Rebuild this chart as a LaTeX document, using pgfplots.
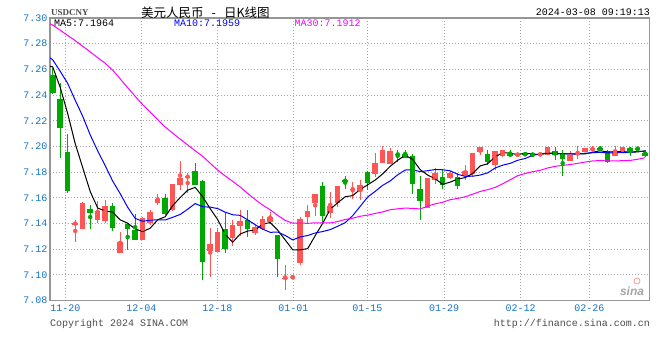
\documentclass[border=0pt]{standalone}
\usepackage{pgfplots}
\pgfplotsset{compat=1.18}
\usepackage{pgfplotstable}
\usepackage{fontspec}
\setmainfont{Liberation Sans}
\newfontfamily\mono{Liberation Mono}
\newfontfamily\cjk{Noto Sans CJK SC}
\newfontfamily\serifx{Liberation Serif}
\definecolor{upred}{RGB}{255,85,85}
\definecolor{dngreen}{RGB}{0,168,0}
\definecolor{tickblue}{RGB}{20,115,200}
\definecolor{bordergray}{RGB}{150,150,150}
\definecolor{gridgray}{RGB}{165,165,165}
\definecolor{mamag}{RGB}{255,0,255}
\definecolor{mablue}{RGB}{0,0,255}

% rising candles (red)
\pgfplotstableread{
i o h l c
4 7.1395 7.1427 7.1258 7.1405
5 7.1357 7.1565 7.1355 7.1561
7 7.1427 7.1575 7.1406 7.1497
8 7.1419 7.1580 7.1406 7.1538
10 7.1168 7.1331 7.1168 7.1258
13 7.1271 7.1452 7.1270 7.1440
14 7.1406 7.1505 7.1388 7.1489
15 7.1560 7.1630 7.1544 7.1590
17 7.1505 7.1710 7.1497 7.1707
18 7.1700 7.1886 7.1660 7.1756
19 7.1756 7.1795 7.1635 7.1774
22 7.1186 7.1367 7.0980 7.1241
23 7.1181 7.1363 7.1180 7.1334
25 7.1290 7.1427 7.1225 7.1388
26 7.1380 7.1505 7.1300 7.1422
28 7.1328 7.1390 7.1310 7.1375
29 7.1355 7.1456 7.1350 7.1435
30 7.1414 7.1494 7.1400 7.1448
32 7.0972 7.1078 7.0883 7.0980
33 7.0978 7.0990 7.0976 7.0986
34 7.1090 7.1448 7.1078 7.1435
35 7.1448 7.1544 7.1400 7.1497
36 7.1562 7.1630 7.1457 7.1627
38 7.1482 7.1647 7.1441 7.1533
39 7.1556 7.1692 7.1530 7.1691
41 7.1664 7.1725 7.1594 7.1672
42 7.1652 7.1740 7.1580 7.1699
44 7.1785 7.1950 7.1764 7.1875
45 7.1872 7.2004 7.1870 7.1971
46 7.1867 7.1985 7.1865 7.1965
51 7.1523 7.1755 7.1520 7.1751
52 7.1738 7.1829 7.1705 7.1790
54 7.1756 7.1810 7.1745 7.1795
56 7.1772 7.1858 7.1740 7.1806
57 7.1790 7.1952 7.1764 7.1950
58 7.1955 7.1998 7.1937 7.1995
60 7.1858 7.1965 7.1820 7.1963
61 7.1924 7.1975 7.1915 7.1971
63 7.1932 7.1945 7.1930 7.1940
66 7.1934 7.1946 7.1930 7.1942
67 7.1937 7.1997 7.1935 7.1995
70 7.1887 7.1963 7.1885 7.1932
71 7.1937 7.2000 7.1900 7.1953
72 7.1956 7.1990 7.1955 7.1989
73 7.1971 7.2000 7.1953 7.1990
76 7.1926 7.2000 7.1925 7.1963
77 7.1955 7.1998 7.1953 7.1995
}\upcandles

% falling candles (green)
\pgfplotstableread{
i o h l c
1 7.2554 7.2613 7.2410 7.2416
2 7.2367 7.2494 7.1914 7.2140
3 7.1956 7.2100 7.1635 7.1655
6 7.1512 7.1544 7.1357 7.1484
9 7.1538 7.1561 7.1340 7.1362
11 7.1396 7.1401 7.1190 7.1355
12 7.1349 7.1474 7.1270 7.1271
16 7.1600 7.1630 7.1466 7.1470
20 7.1808 7.1868 7.1700 7.1700
21 7.1733 7.1735 7.0956 7.1103
24 7.1357 7.1480 7.1168 7.1204
27 7.1427 7.1505 7.1293 7.1357
31 7.1310 7.1310 7.0987 7.1124
37 7.1691 7.1725 7.1396 7.1458
40 7.1738 7.1768 7.1670 7.1730
43 7.1806 7.1806 7.1660 7.1715
47 7.1943 7.1975 7.1880 7.1935
48 7.1945 7.1975 7.1910 7.1911
49 7.1924 7.1940 7.1634 7.1712
50 7.1670 7.1769 7.1427 7.1574
53 7.1764 7.1821 7.1668 7.1700
55 7.1764 7.1790 7.1668 7.1694
59 7.1945 7.1974 7.1858 7.1880
62 7.1945 7.1974 7.1919 7.1926
64 7.1948 7.1950 7.1930 7.1935
65 7.1942 7.1945 7.1930 7.1932
68 7.1963 7.1995 7.1897 7.1932
69 7.1953 7.1970 7.1770 7.1906
74 7.1990 7.2005 7.1965 7.1970
75 7.1963 7.1970 7.1872 7.1880
78 7.1990 7.2000 7.1926 7.1966
79 7.1988 7.2000 7.1962 7.1980
80 7.1953 7.1970 7.1920 7.1926
}\dncandles

% moving averages
\pgfplotstableread{
i ma5 ma10 ma30
0.64 7.2624 7.2690 7.2955
1 7.2620 7.2675 7.2945
2 7.2460 7.2585 7.2905
3 7.2256 7.2490 7.2864
4 7.2022 7.2360 7.2824
5 7.1835 7.2235 7.2780
6 7.1649 7.2090 7.2736
7 7.1520 7.1965 7.2691
8 7.1497 7.1850 7.2647
9 7.1488 7.1730 7.2594
10 7.1428 7.1632 7.2526
11 7.1402 7.1526 7.2457
12 7.1357 7.1439 7.2390
13 7.1337 7.1417 7.2325
14 7.1363 7.1426 7.2268
15 7.1429 7.1428 7.2209
16 7.1452 7.1427 7.2151
17 7.1539 7.1448 7.2103
18 7.1602 7.1470 7.2057
19 7.1659 7.1511 7.2011
20 7.1681 7.1555 7.1966
21 7.1608 7.1530 7.1923
22 7.1515 7.1527 7.1869
23 7.1430 7.1516 7.1815
24 7.1316 7.1488 7.1770
25 7.1254 7.1468 7.1728
26 7.1318 7.1463 7.1684
27 7.1341 7.1428 7.1634
28 7.1349 7.1390 7.1586
29 7.1395 7.1356 7.1543
30 7.1407 7.1331 7.1506
31 7.1348 7.1333 7.1463
32 7.1272 7.1307 7.1424
33 7.1195 7.1272 7.1402
34 7.1195 7.1295 7.1403
35 7.1204 7.1306 7.1401
36 7.1305 7.1326 7.1405
37 7.1401 7.1337 7.1404
38 7.1510 7.1352 7.1404
39 7.1561 7.1378 7.1415
40 7.1608 7.1406 7.1431
41 7.1617 7.1461 7.1441
42 7.1665 7.1533 7.1456
43 7.1701 7.1606 7.1465
44 7.1738 7.1650 7.1478
45 7.1786 7.1697 7.1490
46 7.1845 7.1731 7.1507
47 7.1892 7.1779 7.1514
48 7.1931 7.1816 7.1520
49 7.1899 7.1819 7.1517
50 7.1819 7.1803 7.1513
51 7.1777 7.1811 7.1535
52 7.1748 7.1820 7.1553
53 7.1705 7.1818 7.1565
54 7.1722 7.1810 7.1585
55 7.1746 7.1783 7.1595
56 7.1757 7.1767 7.1608
57 7.1789 7.1768 7.1628
58 7.1848 7.1777 7.1649
59 7.1865 7.1794 7.1663
60 7.1919 7.1832 7.1681
61 7.1952 7.1854 7.1709
62 7.1947 7.1868 7.1740
63 7.1936 7.1892 7.1772
64 7.1947 7.1906 7.1789
65 7.1941 7.1930 7.1803
66 7.1935 7.1943 7.1814
67 7.1949 7.1948 7.1832
68 7.1947 7.1942 7.1845
69 7.1941 7.1944 7.1852
70 7.1941 7.1941 7.1859
71 7.1944 7.1939 7.1868
72 7.1942 7.1946 7.1878
73 7.1954 7.1951 7.1887
74 7.1967 7.1954 7.1890
75 7.1956 7.1949 7.1887
76 7.1958 7.1951 7.1887
77 7.1960 7.1951 7.1889
78 7.1955 7.1954 7.1891
79 7.1957 7.1962 7.1900
80 7.1966 7.1961 7.1912
}\matable

\begin{document}
\begin{tikzpicture}[x=1pt,y=1pt]
\useasboundingbox[fill=white] (0,0) rectangle (660,360);
\begin{axis}[
  at={(50pt,59.5pt)}, anchor=south west,
  scale only axis, width=599.3pt, height=282.5pt,
  xmin=0.64, xmax=80.55, ymin=7.08, ymax=7.30,
  axis line style={bordergray, line width=1.3pt},
  ytick={7.08,7.10,7.12,7.14,7.16,7.18,7.20,7.22,7.24,7.26,7.28,7.30},
  yticklabels={7.08,7.10,7.12,7.14,7.16,7.18,7.20,7.22,7.24,7.26,7.28,7.30},
  xtick={2.68,12.81,22.95,33.08,42.97,53.19,63.40,72.55},
  xticklabels={11-20,12-04,12-18,01-01,01-15,01-29,02-12,02-26},
  major tick length=0pt,
  grid=major,
  grid style={gridgray, line width=0.9pt, dash pattern=on 1pt off 2pt},
  tick label style={font=\mono\fontsize{10}{10}\selectfont, text=tickblue},
  yticklabel style={anchor=east, inner sep=0pt, xshift=-2.5pt},
  xticklabel style={anchor=north, inner sep=0pt, yshift=-4pt},
  clip=true,
]
% wicks
\addplot[upred, only marks, mark=none, forget plot,
  error bars/.cd, y dir=both, y explicit, error mark=none,
  error bar style={draw=upred, line width=1pt}]
  table[x=i, y expr={(\thisrow{h}+\thisrow{l})/2}, y error expr={(\thisrow{h}-\thisrow{l})/2}] {\upcandles};
\addplot[dngreen, only marks, mark=none, forget plot,
  error bars/.cd, y dir=both, y explicit, error mark=none,
  error bar style={draw=dngreen, line width=1pt}]
  table[x=i, y expr={(\thisrow{h}+\thisrow{l})/2}, y error expr={(\thisrow{h}-\thisrow{l})/2}] {\dncandles};
% bodies
\addplot[upred, only marks, mark=none, forget plot,
  error bars/.cd, y dir=both, y explicit, error mark=none,
  error bar style={draw=upred, line width=5.6pt}]
  table[x=i, y expr={(\thisrow{o}+\thisrow{c})/2}, y error expr={abs(\thisrow{c}-\thisrow{o})/2}] {\upcandles};
\addplot[dngreen, only marks, mark=none, forget plot,
  error bars/.cd, y dir=both, y explicit, error mark=none,
  error bar style={draw=dngreen, line width=5.6pt}]
  table[x=i, y expr={(\thisrow{o}+\thisrow{c})/2}, y error expr={abs(\thisrow{c}-\thisrow{o})/2}] {\dncandles};
% moving averages
\addplot[black, line width=1pt, mark=none] table[x=i, y=ma5] {\matable};
\addplot[mablue, line width=1pt, mark=none] table[x=i, y=ma10] {\matable};
\addplot[mamag, line width=1pt, mark=none] table[x=i, y=ma30] {\matable};
\end{axis}
% header
\node[anchor=west, inner sep=0pt, text=black!70, font=\serifx\bfseries\fontsize{9}{9}\selectfont] at (51,347.5) {USDCNY};
\node[anchor=west, inner sep=0pt, font=\cjk\fontsize{12.5}{12.5}\selectfont] at (141,347.5) {美元人民币\hspace{8pt}-\hspace{8pt}日K线图};
\node[anchor=east, inner sep=0pt, font=\mono\fontsize{10}{10}\selectfont] at (650,347.7) {2024-03-08 09:19:13};
% MA legend
\node[anchor=west, inner sep=0pt, text=black, font=\mono\fontsize{10}{10}\selectfont] at (54,336.7) {MA5:7.1964};
\node[anchor=west, inner sep=0pt, text=mablue, font=\mono\fontsize{10}{10}\selectfont] at (174,336.7) {MA10:7.1959};
\node[anchor=west, inner sep=0pt, text=mamag, font=\mono\fontsize{10}{10}\selectfont] at (294.3,336.7) {MA30:7.1912};
% watermark
\node[inner sep=0pt, text=black!35, font=\bfseries\itshape\fontsize{12}{12}\selectfont] at (632,69) {sina};
\draw[red!40, line width=0.8pt] (637,79) circle (3);
% footer
\node[anchor=west, inner sep=0pt, text=black!70, font=\mono\fontsize{10}{10}\selectfont] at (50,36.5) {Copyright 2024 SINA.COM};
\node[anchor=east, inner sep=0pt, text=black!70, font=\mono\fontsize{10}{10}\selectfont] at (650,36.5) {http://finance.sina.com.cn};
\end{tikzpicture}
\end{document}
